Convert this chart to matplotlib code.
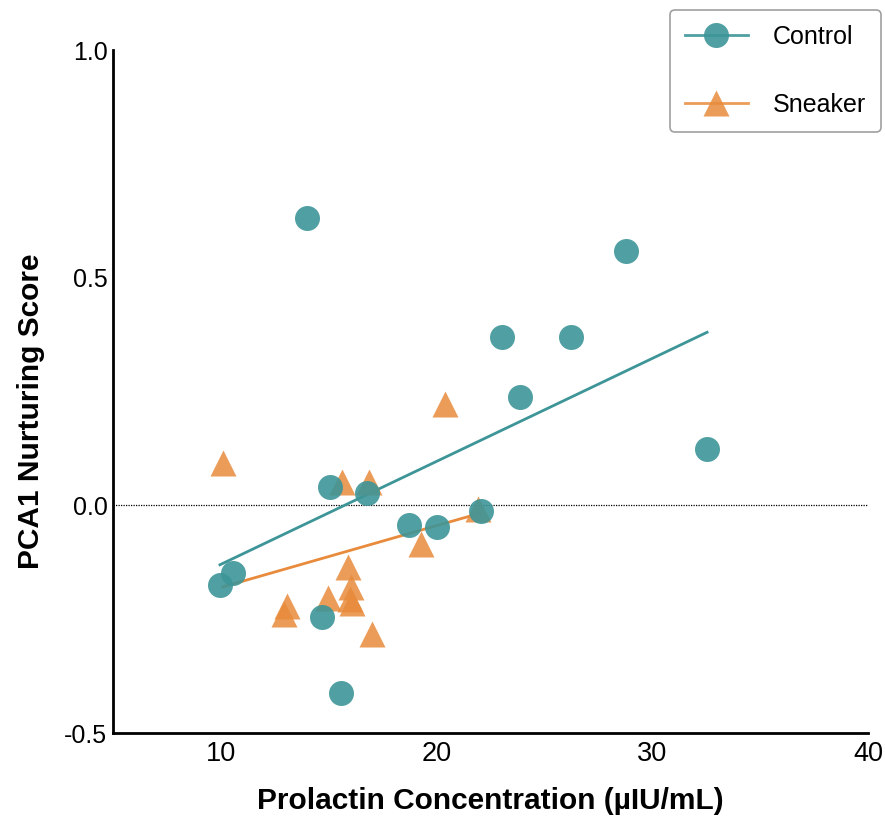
import numpy as np
import matplotlib
matplotlib.use("Agg")
import matplotlib.pyplot as plt
from matplotlib.lines import Line2D

plt.rcParams['font.family'] = ['Liberation Sans', 'DejaVu Sans']

control_x = [9.96, 10.56, 14.0, 14.69, 15.06, 15.57, 16.78, 18.72, 20.02, 22.06, 23.03, 23.87, 26.23, 28.78, 32.54]
control_y = [-0.176, -0.149, 0.631, -0.246, 0.040, -0.413, 0.026, -0.044, -0.048, -0.013, 0.369, 0.237, 0.369, 0.558, 0.123]

sneaker_x = [10.09, 15.6, 16.88, 20.39, 21.9, 19.26, 15.88, 16.02, 16.0, 16.1, 13.05, 12.93, 14.95, 17.0]
sneaker_y = [0.092, 0.051, 0.051, 0.222, -0.007, -0.086, -0.136, -0.18, -0.205, -0.215, -0.22, -0.238, -0.204, -0.282]

x_ticks = [10, 20, 30, 40]
y_ticks = [-0.5, 0.0, 0.5, 1.0]
y_ticklabels = ['-0.5', '0.0', '0.5', '1.0']

teal = '#3d9598'
orange = '#e88b3c'

fig = plt.figure(figsize=(8.85, 8.21), dpi=100)
ax = fig.add_axes([113/885, 1-733/821, (868-113)/885, (733-50)/821])

ax.axhline(0, color='black', lw=0.9, ls=(0, (1, 1)), zorder=1)

cx = np.array(control_x); cy = np.array(control_y)
sx = np.array(sneaker_x); sy = np.array(sneaker_y)

pc = np.polyfit(cx, cy, 1)
ps = np.polyfit(sx, sy, 1)
xc = np.array([cx.min(), cx.max()])
xs = np.array([sx.min(), sx.max()])
ax.plot(xc, np.polyval(pc, xc), color=teal, lw=2, zorder=2)
ax.plot(xs, np.polyval(ps, xs), color=orange, lw=2, zorder=2)

ax.plot(sx, sy, ls='none', marker='^', ms=19, color=orange, alpha=0.85, mec='none', zorder=3)
ax.plot(cx, cy, ls='none', marker='o', ms=18, color=teal, alpha=0.9, mec='none', zorder=4)

ax.set_xlim(5, 40)
ax.set_ylim(-0.5, 1.0)
ax.set_xticks(x_ticks)
ax.set_xticklabels([str(t) for t in x_ticks], fontsize=19.5)
ax.set_yticks(y_ticks)
ax.set_yticklabels(y_ticklabels, fontsize=18)
ax.tick_params(length=0)
ax.tick_params(axis='x', pad=6)
ax.tick_params(axis='y', pad=4)
for s in ['top', 'right']:
    ax.spines[s].set_visible(False)
for s in ['left', 'bottom']:
    ax.spines[s].set_linewidth(2)
ax.set_xlabel('Prolactin Concentration (µIU/mL)', fontsize=21.5, fontweight='bold', labelpad=14)
ax.set_ylabel('PCA1 Nurturing Score', fontsize=21.5, fontweight='bold')
ax.yaxis.set_label_coords(-(113 - 45) / 755, (733 - 411) / 683)

handles = [Line2D([], [], color=teal, lw=2, marker='o', ms=18, alpha=0.9, mec='none'),
           Line2D([], [], color=orange, lw=2, marker='^', ms=19, alpha=0.85, mec='none')]
leg = fig.legend(handles, ['Control', 'Sneaker'], loc='upper left',
                 bbox_to_anchor=(670/885, 1-10/821), fontsize=18, frameon=True,
                 handlelength=2.5, labelspacing=1.75, borderpad=0.6, handletextpad=1.0,
                 borderaxespad=0, fancybox=True)
leg.get_frame().set_edgecolor('#888888')
leg.get_frame().set_linewidth(1.2)

fig.savefig('out.png', dpi=100)
